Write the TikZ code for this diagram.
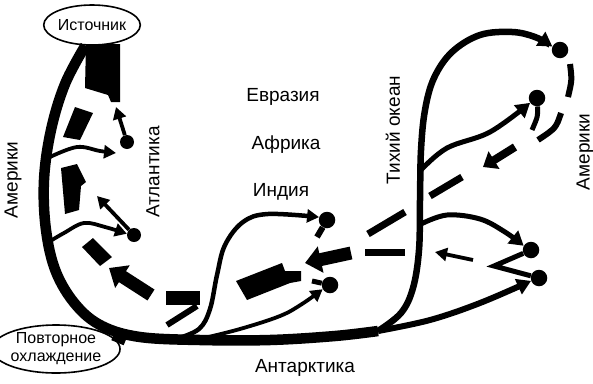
\documentclass[tikz,border=0pt]{standalone}
\usepackage{fontspec}
\setmainfont{Liberation Sans}
\usetikzlibrary{arrows.meta,shapes.geometric,positioning}
\tikzset{
    % Node styles
    oval/.style={ellipse,draw=black,line width=1.6pt,fill=white,inner sep=0pt,align=center,font=\fontsize{16}{18}\selectfont},
    bigdot/.style={circle,fill=black,inner sep=0pt,minimum size=16.5pt},
    smalldot/.style={circle,fill=black,inner sep=0pt,minimum size=14pt},
    region/.style={font=\fontsize{19}{21}\selectfont,inner sep=0pt},
    vregion/.style={region,rotate=90},
    % Flow styles
    mainflow/.style={line width=10.5pt},
    pacflow/.style={line width=6.5pt},
    branchflow/.style={line width=5pt},
    thinflow/.style={line width=3.8pt},
    deepflow/.style={line width=7pt}
}

\begin{document}
\begin{tikzpicture}[x=1pt,y=-1pt,
    thintip/.style={-{Triangle[length=12pt,width=13pt]}},
    branchtip/.style={-{Triangle[length=14pt,width=16pt]}},
    fattip/.style={-{Triangle[length=16pt,width=26pt]}}
]
  \fill[white] (0,0) rectangle (593,383);
  \useasboundingbox (0,0) rectangle (593,383);

  % Sinking region and re-cooling
  \coordinate (fork) at (378,331);
  \node[oval,minimum width=84pt,minimum height=40pt] (src) at (92,25) {Источник};

  % Deep return flow (dashed blocks)
  \fill (86,44) -- (120,44) -- (120,102) -- (111,102) -- (108,95) -- (85,88) -- cycle;
  \fill (75,107) -- (93,113) -- (80,140) -- (63,137) -- cycle;
  \fill (61,168) -- (77,164) -- (86,182) -- (81,186) -- (79,210) -- (65,214) -- cycle;
  \fill (82,247) -- (93,238) -- (112,257) -- (100,266) -- cycle;
  \draw[line width=13pt,fattip] (151,295) -- (109,268);
  \fill (166,291) rectangle (200,305);
  \draw[line width=6pt] (197,306) -- (167,325);
  \fill (236,281) -- (282,263) -- (285,271) -- (301,271) -- (301,281) -- (290,283) -- (247,300) -- cycle;
  \draw[line width=13pt,fattip] (351,253) -- (305,263);
  \draw[deepflow] (365,252) -- (405,252);
  \draw[deepflow] (368,234) -- (405,212);
  \draw[deepflow] (430,196) -- (462,177);
  \draw[line width=8pt,-{Triangle[length=13pt,width=20pt]}] (515,147) -- (483,167);
  \draw[line width=6pt] (561,113) .. controls (556,128) .. (538,140);
  \draw[line width=6pt] (570,64) .. controls (572,80) .. (568,97);

  % Surface flow: Atlantic, Antarctic and Pacific
  \draw[mainflow] plot[smooth,tension=0.6] coordinates {(src.252) (65,84) (51,130) (44,180) (46,230) (56,272) (76,305) (102,326) (140,337) (200,340) (270,340) (335,336) (fork)};
  \node[bigdot] (ptop) at (560,50) {};
  \node[bigdot] (pmid) at (537,98) {};
  \node[bigdot] (pa) at (531,250) {};
  \node[bigdot] (pb) at (539,278) {};
  \draw[pacflow,branchtip] plot[smooth,tension=0.6] coordinates {(fork) (401,313) (413,288) (419,250) (420,200) (421,150) (425,110) (434,78) (452,52) (480,35) (512,32) (535,37) (ptop.155)};
  \draw[branchflow,branchtip] plot[smooth,tension=0.6] coordinates {(421,170) (447,148) (490,132) (pmid.215)};
  \draw[branchflow,branchtip] plot[smooth,tension=0.6] coordinates {(421,224) (447,215) (480,219) (505,232) (pa.150)};
  \draw[line width=6pt,branchtip] plot[smooth,tension=0.6] coordinates {(fork) (430,320) (480,303) (pb.200)};
  \draw[branchflow] (pa) -- (494,266) -- (pb);
  \draw[branchflow] (pmid) .. controls (538,116) .. (532,130);
  \draw[thinflow,thintip] (473,260) -- (435,252);

  % Indian Ocean upwelling
  \node[bigdot] (iu) at (327,220) {};
  \node[bigdot] (il) at (330,285) {};
  \draw[line width=4.5pt,thintip] plot[smooth,tension=0.6] coordinates {(176,339) (199,329) (210,309) (217,275) (225,245) (243,222) (268,214) (iu.160)};
  \draw[thinflow,thintip] plot[smooth,tension=0.6] coordinates {(200,339) (240,329) (280,316) (302,304) (il.210)};
  \draw[line width=6pt] (iu) -- (317,237);
  \draw[line width=5pt] (il) -- (312,281);

  % Atlantic upwelling
  \node[smalldot] (a1) at (127,142) {};
  \node[smalldot] (a2) at (134,235) {};
  \draw[thinflow,thintip] (a1) -- (116,107);
  \draw[thinflow,thintip] (a2) -- (97,196);
  \draw[thinflow,thintip] plot[smooth,tension=0.6] coordinates {(50,157) (77,147) (100,151) (116,153)};
  \draw[thinflow,thintip] plot[smooth,tension=0.6] coordinates {(47,243) (64,233) (84,223) (105,227) (a2.170)};

  % Re-cooling
  \node[oval,minimum width=104pt,minimum height=48pt] (cool) at (56,349) {Повторное\\охлаждение};
  \draw[line width=7pt] (cool.12) -- (125,342);

  % Region labels
  \node[region] (eurasia) at (283,97) {Евразия};
  \node[region] (africa) at (286,145) {Африка};
  \node[region] (india) at (281,192) {Индия};
  \node[region] (antarctica) at (305,368) {Антарктика};
  \node[vregion] (atlantic) at (153,172) {Атлантика};
  \node[vregion] (americasw) at (13,180) {Америки};
  \node[vregion] (pacific) at (393,130) {Тихий океан};
  \node[vregion] (americase) at (585,152) {Америки};
\end{tikzpicture}
\end{document}
